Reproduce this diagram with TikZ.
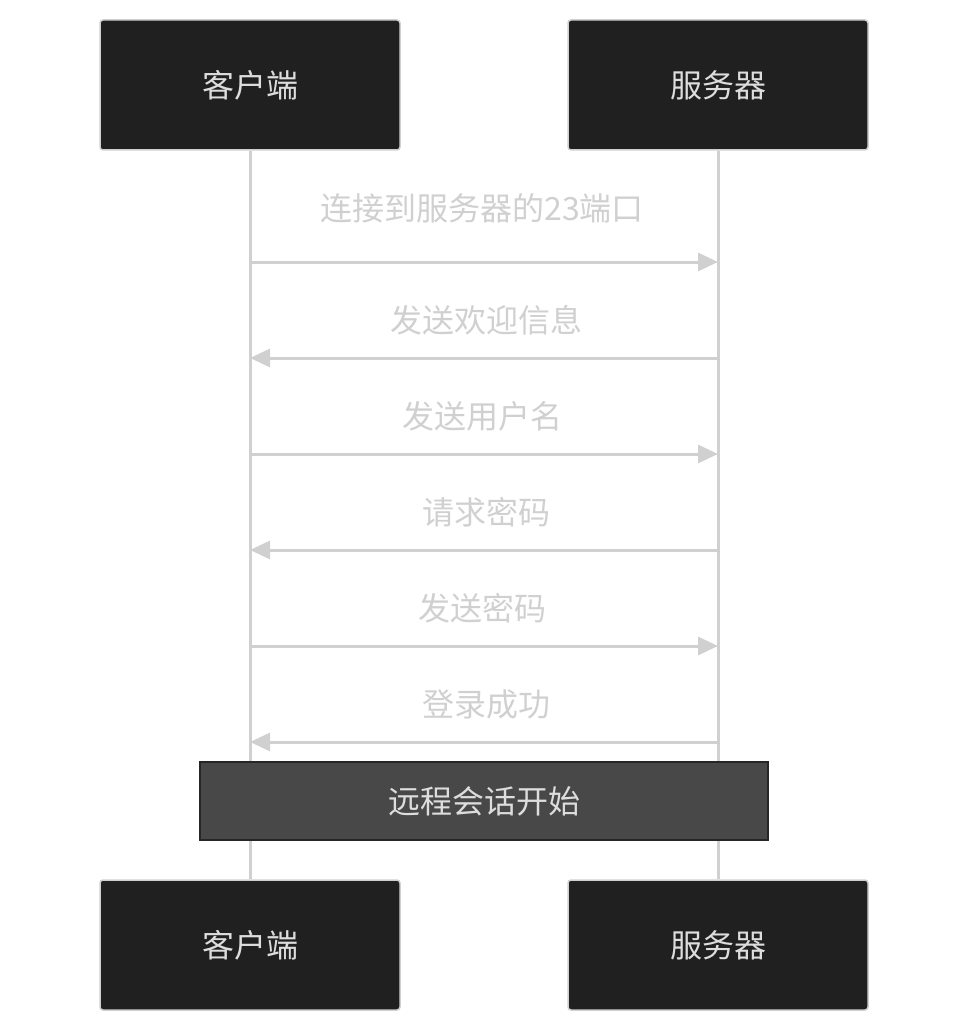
\documentclass[tikz,border=0pt]{standalone}
\usepackage{fontspec}
\setmainfont{Noto Sans CJK SC}
\usetikzlibrary{arrows.meta,positioning}
\definecolor{boxfill}{HTML}{202020}
\definecolor{notefill}{HTML}{484848}
\definecolor{linegray}{HTML}{D0D0D0}
\definecolor{textgray}{HTML}{DDDDDD}
\begin{document}
\begin{tikzpicture}[x=1pt, y=-1pt,
    actor/.style={rectangle, rounded corners=3pt, draw=linegray, line width=1.5pt, fill=boxfill,
      minimum width=300pt, minimum height=130pt, text=textgray, font=\fontsize{32}{38}\selectfont},
    msg/.style={-{Triangle[length=20pt,width=18pt]}, draw=linegray, line width=3pt},
    msglabel/.style={text=linegray, font=\fontsize{32}{38}\selectfont},
    life/.style={draw=linegray, line width=3pt}]
  \useasboundingbox (0,0) rectangle (968,1032);

  % Actors
  \node[actor] (c1) at (250,85) {客户端};
  \node[actor] (s1) at (718,85) {服务器};
  \node[actor] (c2) at (250,945) {客户端};
  \node[actor] (s2) at (718,945) {服务器};

  % Lifelines
  \draw[life] (c1) -- (c2);
  \draw[life] (s1) -- (s2);

  % Messages
  \coordinate (ca) at (250,262); \coordinate (sa) at (718,262);
  \coordinate (cb) at (250,358); \coordinate (sb) at (718,358);
  \coordinate (cc) at (250,454); \coordinate (sc) at (718,454);
  \coordinate (cd) at (250,550); \coordinate (sd) at (718,550);
  \coordinate (ce) at (250,646); \coordinate (se) at (718,646);
  \coordinate (cf) at (250,742); \coordinate (sf) at (718,742);
  \draw[msg] (ca) -- (sa);
  \draw[msg] (sb) -- (cb);
  \draw[msg] (cc) -- (sc);
  \draw[msg] (sd) -- (cd);
  \draw[msg] (ce) -- (se);
  \draw[msg] (sf) -- (cf);
  \node[msglabel] (l1) at (482,208) {连接到服务器的23端口};
  \node[msglabel] (l2) at (486,320) {发送欢迎信息};
  \node[msglabel] (l3) at (482,416) {发送用户名};
  \node[msglabel] (l4) at (486,512) {请求密码};
  \node[msglabel] (l5) at (482,608) {发送密码};
  \node[msglabel] (l6) at (486,704) {登录成功};

  % Note
  \node[rectangle, draw=black!85, line width=1.5pt, fill=notefill, minimum width=568pt,
    minimum height=78pt, text=textgray, font=\fontsize{32}{38}\selectfont] (note) at (484,801) {远程会话开始};
\end{tikzpicture}
\end{document}
